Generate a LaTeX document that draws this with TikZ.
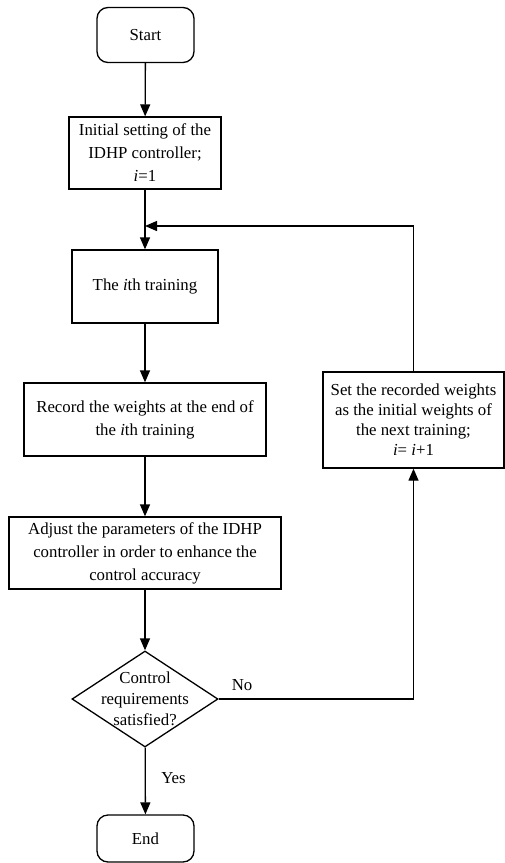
\documentclass[tikz,border=0pt]{standalone}
\usepackage{fontspec}
\setmainfont{Liberation Serif}
\usetikzlibrary{arrows.meta,shapes.geometric}

\tikzset{
  flow/.style={line width=1.3pt,-{Triangle[length=12pt,width=10pt]}},
  line/.style={line width=1.3pt},
  term/.style={draw,line width=1.3pt,rounded corners=11pt,minimum width=97pt,
    minimum height=55pt,inner sep=0pt},
  proc/.style={draw,line width=1.3pt,align=center,inner sep=0pt},
  test/.style={draw,line width=1.3pt,diamond,inner sep=-30pt,
    minimum width=146pt,minimum height=96pt,align=center}
}

\begin{document}
\begin{tikzpicture}[x=1pt,y=-1pt,font=\fontsize{16.8}{23}\selectfont]
    \useasboundingbox (0,0) rectangle (505,863);
    \node[term] (start) at (145.5,35) {Start};
    \node[proc,minimum width=152pt,minimum height=72pt] (init) at (145,153)
        {Initial setting of the\\IDHP controller;\\\textit{i}=1};
    \node[proc,minimum width=146pt,minimum height=73pt] (train) at (145,286.5)
        {The \textit{i}th training};
    \node[proc,minimum width=242pt,minimum height=73pt] (record) at (145,419.5)
        {Record the weights at the end of\\the \textit{i}th training};
    \node[proc,minimum width=272pt,minimum height=72pt] (adjust) at (145,553)
        {Adjust the parameters of the IDHP\\controller in order to enhance the\\control accuracy};
    \node[test,font=\fontsize{16.8}{21}\selectfont] (check) at (145,699)
        {Control\\requirements\\satisfied?};
    \node[term,minimum height=47pt] (end) at (145.5,838.5) {End};
    \node[proc,minimum width=181pt,minimum height=96pt,font=\fontsize{16.8}{20}\selectfont] (update) at (413.5,420)
        {Set the recorded weights\\as the initial weights of\\the next training;\\\textit{i}= \textit{i}+1};
    \coordinate (loop) at (145,226);
    \coordinate (corner) at (update.north |- loop);
    \coordinate (turn) at (update.south |- check.east);

    \draw[flow] (start) -- (init);
    \draw[flow] (init) -- (train);
    \draw[flow] (train) -- (record);
    \draw[flow] (record) -- (adjust);
    \draw[flow] (adjust) -- (check);
    \draw[flow] (check) -- node[right=12pt,pos=0.45] (yes) {Yes} (end);
    \draw[line] (check.east) -- node[above=4pt,pos=0.12] (no) {No} (turn);
    \draw[flow] (turn) -- (update.south);
    \draw[line] (update.north) -- (corner);
    \draw[flow] (corner) -- (loop);
\end{tikzpicture}
\end{document}
